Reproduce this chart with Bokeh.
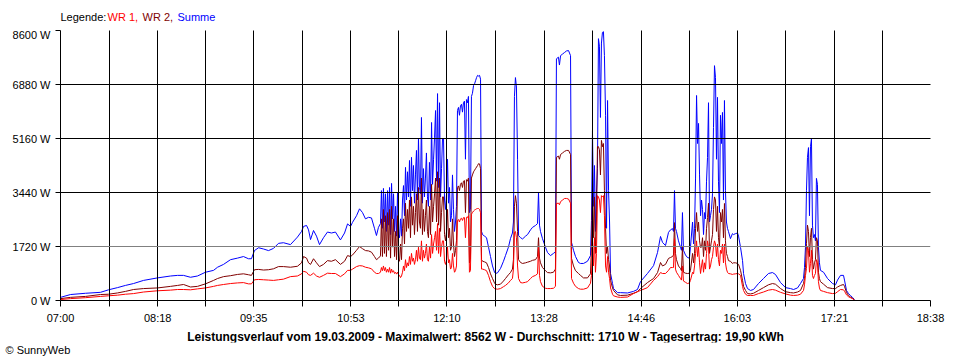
from bokeh.plotting import figure
from bokeh.layouts import column
from bokeh.models import Range1d, FixedTicker, Span, Label, Title
from bokeh.embed import file_html
from bokeh.resources import INLINE

# time in minutes after 07:00
t_min = [
    # 07:00 - 11:17
    0.0, 8.0, 20.1, 32.1, 38.5, 45.7, 52.1, 58.6, 66.6, 77.8,
    88.3, 93.9, 98.7, 104.3, 109.9, 116.3, 122.8, 126.0, 130.8, 136.4,
    142.0, 146.8, 150.8, 153.2, 155.6, 158.9, 162.9, 166.9, 170.9, 174.9,
    178.9, 184.5, 190.1, 193.4, 195.0, 197.4, 199.0, 200.6, 203.0, 205.4,
    207.8, 211.0, 214.2, 217.4, 220.6, 224.6, 227.9, 230.3, 232.7, 234.3,
    237.5, 239.9, 242.3, 244.7, 247.1, 249.5, 251.9, 253.5, 255.1, 256.7,
    # 11:17 - 12:37
    257.5, 258.3, 259.1, 259.9, 260.7, 261.5, 262.4, 263.2, 264.0, 264.8,
    265.6, 266.4, 267.2, 268.0, 268.8, 269.6, 270.4, 271.2, 272.0, 272.8,
    273.6, 274.4, 275.2, 276.0, 276.8, 277.6, 278.4, 279.2, 280.0, 280.8,
    281.6, 282.4, 283.2, 284.0, 284.8, 285.6, 286.4, 287.2, 288.0, 288.8,
    289.6, 290.4, 291.2, 292.0, 292.8, 293.6, 294.4, 295.2, 296.0, 296.9,
    297.7, 298.5, 299.3, 300.1, 300.9, 301.7, 302.5, 303.3, 304.1, 304.9,
    305.7, 306.5, 307.3, 308.1, 308.9, 309.7, 310.5, 311.3, 312.1, 312.9,
    313.7, 314.5, 315.3, 316.1, 316.9, 317.7, 318.5, 319.3, 320.1, 320.9,
    321.7, 322.5, 323.3, 324.1, 324.9, 325.7, 326.5, 327.3, 328.1, 328.9,
    329.7, 330.5, 331.4, 332.2, 333.0, 333.8, 334.6, 335.4, 336.2, 337.0,
    # 12:37 - 14:05
    337.8, 338.6, 340.2, 341.8, 343.4, 345.0, 346.6, 348.2, 349.0, 350.6,
    353.0, 355.4, 357.0, 359.4, 361.0, 362.6, 363.4, 364.2, 365.0, 365.8,
    366.7, 367.5, 369.1, 370.7, 373.1, 374.7, 377.1, 378.7, 381.1, 382.7,
    383.5, 384.3, 385.1, 386.7, 389.1, 390.7, 393.1, 395.5, 397.1, 397.9,
    399.5, 400.3, 401.2, 402.8, 404.4, 406.0, 407.6, 409.2, 410.0, 411.6,
    413.2, 415.6, 417.2, 419.6, 422.8, 425.2,
    # 14:06 - 14:21
    426.0, 426.8, 427.6, 428.4, 429.2, 430.0, 430.8, 431.6, 432.4, 433.2,
    434.0, 434.8, 435.6, 436.4, 437.3, 438.1, 438.9, 439.7, 440.5, 441.3,
    # 14:23 - 15:25
    442.9, 443.7, 446.9, 449.3, 454.9, 459.7, 462.9, 465.3, 470.9, 475.8,
    479.0, 481.4, 483.0, 485.4, 487.8, 489.4, 491.0, 491.8, 492.6, 493.4,
    494.2, 495.8, 497.4, 498.2, 499.0, 499.8, 501.4, 503.0, 504.6, 505.4,
    # 15:27 - 15:55
    507.1, 507.9, 508.7, 509.5, 510.3, 511.1, 511.9, 512.7, 513.5, 514.3,
    515.1, 515.9, 516.7, 517.5, 518.3, 519.1, 519.9, 520.7, 521.5, 522.3,
    523.1, 523.9, 524.7, 525.5, 526.3, 527.1, 527.9, 528.7, 529.5, 530.3,
    531.1, 531.9, 532.7, 533.5, 534.3, 535.1,
    # 15:56 - 16:56
    535.9, 537.5, 539.1, 539.9, 541.6, 543.2, 544.0, 545.6, 547.2, 548.0,
    549.6, 551.2, 553.6, 556.0, 560.0, 564.0, 568.0, 571.2, 573.6, 577.7,
    581.7, 585.7, 588.1, 591.3, 593.7, 596.1,
    # 16:57 - 17:10
    596.9, 597.7, 598.5, 599.3, 600.1, 600.9, 601.7, 602.5, 603.3, 604.1,
    604.9, 605.7, 606.5, 607.3, 608.1, 608.9, 609.7,
    # 17:12 - 17:37
    612.2, 615.4, 619.4, 621.8, 623.4, 625.8, 628.2, 629.0, 630.6, 632.2,
    633.8, 635.4, 637.0,
]

# WR 1 (red), W
wr1 = [
    30, 60, 90, 130, 150, 170, 200, 220, 270, 310,
    330, 350, 350, 340, 370, 400, 450, 480, 510, 540,
    560, 570, 530, 530, 660, 670, 660, 650, 640, 660,
    680, 760, 780, 850, 930, 900, 820, 800, 870, 780,
    740, 800, 870, 860, 860, 760, 850, 960, 960, 1000,
    1080, 1110, 1100, 1060, 1040, 1010, 900, 860, 860, 900,
    1050, 950, 1100, 950, 1050, 900, 1000, 900, 1050, 870,
    1000, 900, 950, 860, 900, 840, 900, 830, 800, 730,
    780, 900, 1100, 950, 1300, 1050, 1200, 1100, 1400, 1150,
    1500, 1250, 1350, 1150, 1300, 1600, 1250, 1700, 1350, 1300,
    1900, 1250, 1600, 1350, 1500, 1800, 1300, 1250, 1700, 1350,
    2100, 1500, 1800, 2000, 2200, 1600, 2450, 1500, 2300, 1400,
    1700, 1900, 1900, 1250, 1150, 1300, 1700, 1200, 1300, 1000,
    1050, 1500, 1100, 900, 950, 1100, 2550, 2580, 2500, 2600,
    2620, 2550, 2640, 2640, 2000, 2650, 2640, 2700, 900, 950,
    2750, 2800, 2850, 2880, 2900, 2920, 2930, 2930, 2900, 2800,
    1000, 1000, 980, 950, 800, 600, 450, 380, 370, 360,
    380, 440, 480, 560, 640, 700, 1000, 2170, 2200, 2000,
    1100, 700, 570, 560, 580, 600, 700, 760, 800, 850,
    1690, 800, 600, 450, 390, 380, 380, 390, 450, 3090,
    3100, 3050, 3150, 3200, 3250, 3250, 3230, 3100, 700, 550,
    450, 380, 360, 360, 400, 550,
    800, 1900, 1100, 2000, 900, 1500, 3340, 3300, 3200, 2800,
    3340, 3300, 3340, 2700, 1100, 900, 1400, 900, 700, 400,
    200, 150, 110, 100, 110, 220, 280, 320, 410, 640,
    760, 890, 860, 860, 960, 1050, 1050, 1050, 1970, 1000,
    900, 800, 700, 650, 1100, 620, 580, 540, 560, 640,
    900, 850, 1100, 1500, 1900, 1400, 1700, 1200, 860, 1100,
    1300, 900, 1200, 1000, 1500, 1900, 1700, 1000, 1100, 1300,
    1400, 1700, 1900, 1800, 1400, 1800, 1300, 1100, 1600, 1500,
    1800, 1200, 1800, 1200, 1000, 900,
    860, 850, 830, 840, 850, 860, 850, 800, 450, 320,
    200, 160, 160, 160, 220, 270, 330, 350, 330, 260,
    210, 170, 160, 170, 200, 320,
    500, 800, 1020, 1700, 1600, 900, 1180, 1600, 800, 700,
    800, 860, 1300, 1200, 600, 400, 320,
    290, 250, 220, 230, 280, 350, 340, 300, 180, 120,
    90, 60, 10,
]

# WR 2 (dark red), W
wr2 = [
    60, 100, 130, 190, 200, 240, 290, 350, 380, 400,
    450, 480, 510, 430, 450, 530, 640, 700, 760, 790,
    830, 850, 820, 800, 980, 990, 970, 980, 1010, 1080,
    1080, 1060, 1090, 1200, 1400, 1350, 1200, 1150, 1330, 1200,
    1080, 1150, 1270, 1250, 1300, 1150, 1250, 1430, 1400, 1450,
    1600, 1720, 1650, 1590, 1580, 1540, 1400, 1300, 1350, 1420,
    2600, 1400, 2900, 1500, 2700, 1400, 2800, 1600, 2900, 1350,
    3000, 1700, 2600, 1400, 2200, 1300, 2700, 1300, 1250, 1800,
    1300, 2300, 2600, 1800, 3100, 2200, 2900, 2300, 3200, 2000,
    3300, 2400, 3000, 2100, 2800, 3400, 2200, 3600, 2500, 2300,
    3900, 2100, 2900, 2200, 2700, 3200, 2200, 2000, 3000, 2100,
    3700, 2500, 3000, 3400, 3900, 2500, 4100, 2400, 3900, 2200,
    2800, 3300, 3300, 2100, 1900, 2200, 2900, 2000, 2300, 1600,
    1700, 2600, 1800, 1400, 1600, 1900, 3600, 3650, 3500, 3700,
    3750, 3600, 3800, 3820, 2800, 3850, 3800, 3900, 1200, 1300,
    3900, 4000, 4100, 4150, 4200, 4250, 4300, 4360, 4350, 4200,
    1300, 1250, 1230, 1200, 1050, 850, 700, 560, 520, 500,
    520, 620, 700, 820, 890, 1000, 1300, 3000, 3340, 3100,
    2200, 1300, 1210, 1180, 1200, 1220, 1250, 1280, 1300, 1400,
    2000, 1350, 1200, 1050, 950, 890, 880, 900, 1000, 4560,
    4600, 4500, 4650, 4700, 4750, 4780, 4780, 4650, 1340, 1100,
    950, 860, 800, 720, 720, 850,
    1700, 3500, 2000, 3300, 1500, 2500, 4900, 4900, 4800, 4000,
    5100, 4900, 5000, 3500, 2300, 1500, 1700, 1300, 1100, 640,
    400, 320, 180, 160, 170, 230, 280, 380, 570, 700,
    890, 1210, 1100, 1150, 1340, 1370, 1400, 1450, 2480, 1500,
    1300, 1100, 1020, 950, 1700, 900, 870, 860, 870, 950,
    1500, 1200, 1500, 2300, 2800, 2200, 2500, 1900, 1690, 1700,
    2000, 1400, 1900, 1600, 2300, 2640, 3100, 1500, 1700, 1900,
    2100, 2900, 3300, 3200, 2200, 3000, 2000, 1700, 2800, 2500,
    2900, 2000, 3090, 1900, 1500, 1400,
    1270, 1250, 1180, 1200, 1200, 1180, 1150, 960, 640, 450,
    320, 220, 210, 230, 320, 410, 500, 540, 520, 380,
    280, 250, 240, 270, 320, 540,
    700, 1050, 1810, 2400, 2200, 1400, 2010, 2300, 1300, 1000,
    1200, 1300, 2000, 1900, 900, 700, 600,
    520, 410, 380, 380, 430, 480, 510, 450, 260, 160,
    110, 70, 20,
]

# Summe (blue), W
summe = [
    100, 190, 230, 260, 340, 410, 480, 540, 640, 720,
    780, 800, 800, 740, 780, 900, 960, 1060, 1150, 1300,
    1350, 1400, 1330, 1330, 1590, 1680, 1640, 1590, 1660, 1820,
    1840, 1780, 2020, 2200, 2360, 2390, 2250, 1940, 2230, 2050,
    1780, 2000, 2180, 2150, 2180, 1930, 2150, 2440, 2360, 2490,
    2700, 2920, 2800, 2600, 2650, 2630, 2300, 2070, 2330, 2450,
    3500, 2300, 3570, 2500, 3400, 2200, 3500, 2400, 3600, 2100,
    3730, 2600, 3400, 2200, 3000, 2050, 3450, 2100, 2000, 2600,
    2050, 3200, 3660, 2700, 4240, 3200, 4100, 3300, 4460, 3000,
    4560, 3500, 4300, 3100, 4000, 4780, 3200, 5160, 3600, 3400,
    5830, 3100, 4200, 3300, 3900, 4700, 3300, 3000, 4400, 3200,
    5670, 3700, 4500, 5200, 6050, 3800, 6590, 3600, 6300, 3300,
    4200, 5160, 5160, 3200, 2900, 3400, 4500, 3100, 3600, 2500,
    2700, 4000, 2900, 2200, 2500, 3000, 6050, 6150, 5900, 6200,
    6250, 6000, 6300, 6350, 4500, 6400, 6300, 6500, 2800, 2900,
    6500, 6600, 6850, 6900, 7000, 7100, 7170, 7150, 7170, 7050,
    2200, 2100, 2050, 2000, 1700, 1400, 1100, 900, 860, 880,
    1020, 1250, 1430, 1700, 1970, 2150, 2500, 6500, 7100, 6800,
    4500, 2070, 2000, 1960, 2050, 2100, 2250, 2330, 2390, 2450,
    3440, 2400, 2200, 1970, 1700, 1530, 1430, 1500, 1550, 7700,
    7750, 7500, 7800, 7850, 7900, 7950, 7960, 7800, 1850, 1600,
    1400, 1210, 1180, 1180, 1250, 1430,
    2550, 5410, 3000, 4300, 2200, 3400, 4200, 8340, 8100, 5830,
    8200, 8540, 8562, 7800, 5900, 2300, 6370, 3500, 2500, 860,
    540, 380, 250, 250, 240, 290, 350, 600, 860, 1110,
    1530, 2040, 1850, 1750, 2170, 2250, 2290, 2200, 3500, 2300,
    2200, 1900, 1700, 1600, 2800, 1600, 1450, 1370, 1350, 1700,
    2500, 1800, 2300, 3900, 6530, 5000, 5640, 4000, 2700, 3200,
    2900, 2100, 2800, 2600, 3800, 4560, 6300, 2500, 2700, 2900,
    3400, 5510, 7480, 7100, 4500, 6470, 3800, 2800, 5900, 5000,
    5990, 3200, 6370, 3500, 2500, 2300,
    2200, 1970, 2130, 2100, 2130, 2150, 2050, 1690, 1270, 860,
    540, 380, 320, 350, 540, 700, 860, 890, 830, 570,
    410, 380, 350, 400, 540, 700,
    1050, 1700, 3500, 4560, 4870, 2700, 4900, 5160, 2400, 2000,
    2100, 1900, 3890, 3700, 1700, 1200, 960,
    900, 700, 540, 500, 650, 800, 800, 650, 320, 220,
    160, 100, 30,
]

x_tick_labels = ["07:00", "08:18", "09:35", "10:53", "12:10",
                 "13:28", "14:46", "16:03", "17:21", "18:38"]
y_ticks = [0, 1720, 3440, 5160, 6880, 8600]
y_tick_labels = ["0 W", "1720 W", "3440 W", "5160 W", "6880 W", "8600 W"]

legend_parts = ["Legende: ", "WR 1, ", "WR 2, ", "Summe"]
title_text = ("Leistungsverlauf vom 19.03.2009 - Maximalwert: 8562 W - "
              "Durchschnitt: 1710 W - Tagesertrag: 19,90 kWh")
copyright_text = "\u00a9 SunnyWeb"

C_WR1 = "#FF0000"
C_WR2 = "#800000"
C_SUM = "#0000FF"
FONT = "Liberation Sans"
W = 960


def to_min(s):
    h, m = s.split(":")
    return (int(h) - 7) * 60 + int(m)


def blank_fig(h):
    f = figure(width=W, height=h, x_range=Range1d(0, W), y_range=Range1d(0, h),
               min_border=0, x_axis_type=None, y_axis_type=None,
               output_backend="svg", toolbar_location=None)
    f.outline_line_color = None
    f.background_fill_color = "white"
    f.border_fill_color = "white"
    f.grid.visible = False
    return f


# ---- header with coloured legend text (frame is aligned with the chart frame)
head = blank_fig(28)
leg_colors = ["black", C_WR1, C_WR2, C_SUM]
leg_x = [0, 47, 82, 117]
for txt, col, lx in zip(legend_parts, leg_colors, leg_x):
    head.add_layout(Label(x=lx, y=12, x_units="screen", y_units="screen",
                          text=txt, text_color=col, text_font=FONT,
                          text_font_size="11px", text_baseline="middle"))

# ---- main chart
major = [to_min(s) for s in x_tick_labels]
minor = [(a + b) / 2 for a, b in zip(major[:-1], major[1:])]

p = figure(width=W, height=302,
           x_range=Range1d(0, major[-1]), y_range=Range1d(0, 8600),
           min_border_left=60, min_border_right=30,
           min_border_top=2, min_border_bottom=30,
           output_backend="svg", toolbar_location=None)
p.background_fill_color = "white"
p.border_fill_color = "white"
p.outline_line_color = None

p.line(t_min, summe, line_color=C_SUM, line_width=1)
p.line(t_min, wr2, line_color=C_WR2, line_width=1)
p.line(t_min, wr1, line_color=C_WR1, line_width=1)

p.xaxis.ticker = FixedTicker(ticks=major, minor_ticks=minor)
p.xaxis.major_label_overrides = {m: s for m, s in zip(major, x_tick_labels)}
p.yaxis.ticker = FixedTicker(ticks=y_ticks)
p.yaxis.major_label_overrides = {v: s for v, s in zip(y_ticks, y_tick_labels)}
for ax in (p.xaxis[0], p.yaxis[0]):
    ax.axis_line_color = "black"
    ax.major_tick_line_color = "black"
    ax.major_tick_in = 0
    ax.major_label_text_font = FONT
    ax.major_label_text_font_size = "11px"
    ax.major_label_text_color = "black"
    ax.major_label_standoff = 5
p.xaxis.major_tick_out = 6
p.xaxis.minor_tick_out = 6
p.xaxis.minor_tick_in = 0
p.xaxis.minor_tick_line_color = "black"
p.yaxis.major_tick_out = 5
p.yaxis.minor_tick_line_color = None

# grid drawn on top of the data
p.xgrid.grid_line_color = "black"
p.xgrid.minor_grid_line_color = "black"
p.xgrid.level = "annotation"
p.ygrid.ticker = FixedTicker(ticks=[v for v in y_ticks if v != 1720])
p.ygrid.grid_line_color = "black"
p.ygrid.level = "annotation"
p.add_layout(Span(location=y_ticks[1], dimension="width",
                  line_color="#808080", line_width=1, level="overlay"))

# ---- footer with summary and copyright
foot = blank_fig(26)
foot.add_layout(Title(text=copyright_text, align="left", offset=-55,
                      standoff=0, text_font=FONT, text_font_size="11px",
                      text_font_style="normal", text_color="black",
                      vertical_align="middle"), "below")
foot.add_layout(Label(x=425, y=6, x_units="screen", y_units="screen",
                      text=title_text, text_font=FONT, text_font_size="12px",
                      text_font_style="bold", text_align="center",
                      text_baseline="middle", text_color="black"))

layout = column(head, p, foot, spacing=0)
open("out.html", "w").write(file_html(layout, INLINE))
